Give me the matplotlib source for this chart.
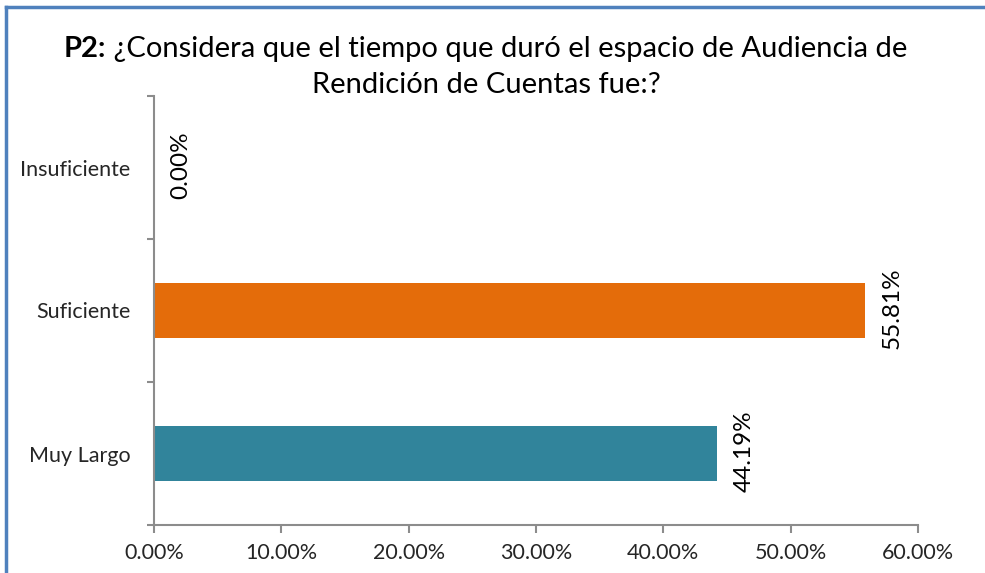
import matplotlib
matplotlib.use("Agg")
import matplotlib.pyplot as plt
from matplotlib.lines import Line2D
from matplotlib.ticker import FixedLocator, PercentFormatter

categories = ["Insuficiente", "Suficiente", "Muy Largo"]
values = [0.00, 55.81, 44.19]
colors = ["#E46C0A", "#E46C0A", "#31849B"]
xticks = [0, 10, 20, 30, 40, 50, 60]
title_bold = "P2:"
title_line1 = " ¿Considera que el tiempo que duró el espacio de Audiencia de"
title_line2 = "Rendición de Cuentas fue:?"

FONT = "Lato"
plt.rcParams['font.family'] = [FONT, 'DejaVu Sans']

W, H = 985, 573
fig = plt.figure(figsize=(W / 100, H / 100), dpi=100)
ax = fig.add_axes([154 / W, 1 - 525 / H, (918 - 154) / W, (525 - 96) / H])

pos = list(range(len(categories)))
ax.barh(pos, values, height=0.39, color=colors, zorder=2)
ax.set_ylim(len(categories) - 0.5, -0.5)
ax.set_xlim(0, 60)

ax.set_yticks(pos)
ax.set_yticklabels(categories, fontsize=15.5, color="#262626")
ax.tick_params(axis='y', which='major', length=0, pad=17)
ax.yaxis.set_minor_locator(FixedLocator([p - 0.5 for p in pos] + [pos[-1] + 0.5]))
ax.tick_params(axis='y', which='minor', length=5, width=1.5, color="#8C8C8C", direction='out')

ax.set_xticks(xticks)
ax.xaxis.set_major_formatter(PercentFormatter(decimals=2))
ax.tick_params(axis='x', which='major', length=6, width=1.5, color="#8C8C8C",
               labelsize=15.5, labelcolor="#262626", pad=7)

for s in ['top', 'right']:
    ax.spines[s].set_visible(False)
for s in ['left', 'bottom']:
    ax.spines[s].set_color("#8C8C8C")
    ax.spines[s].set_linewidth(1.5)

for p, v in zip(pos, values):
    ax.annotate(f"{v:.2f}%", xy=(v, p), xytext=(12, 2), textcoords='offset points',
                rotation=90, ha='left', va='center', fontsize=17.5, color="black")

# Title
fig.canvas.draw()
r = fig.canvas.get_renderer()
tsize = 21
y1 = 1 - 49 / H
y2 = 1 - 85 / H
tb = fig.text(0, y1, title_bold, fontsize=tsize, fontweight='bold', va='center', ha='left')
tn = fig.text(0, y1, title_line1, fontsize=tsize, va='center', ha='left')
wb = tb.get_window_extent(r).width
wn = tn.get_window_extent(r).width
cx = 486
x0 = cx - (wb + wn) / 2
tb.set_x(x0 / W)
tn.set_x((x0 + wb) / W)
fig.text(cx / W, y2, title_line2, fontsize=tsize, va='center', ha='center')

# Border lines (top and left)
fig.add_artist(Line2D([6 / W, 1], [1 - 7 / H, 1 - 7 / H], color="#4F81BD", lw=2.5, transform=fig.transFigure))
fig.add_artist(Line2D([6 / W, 6 / W], [0, 1 - 7 / H], color="#4F81BD", lw=2.5, transform=fig.transFigure))

fig.savefig("out.png", dpi=100)
